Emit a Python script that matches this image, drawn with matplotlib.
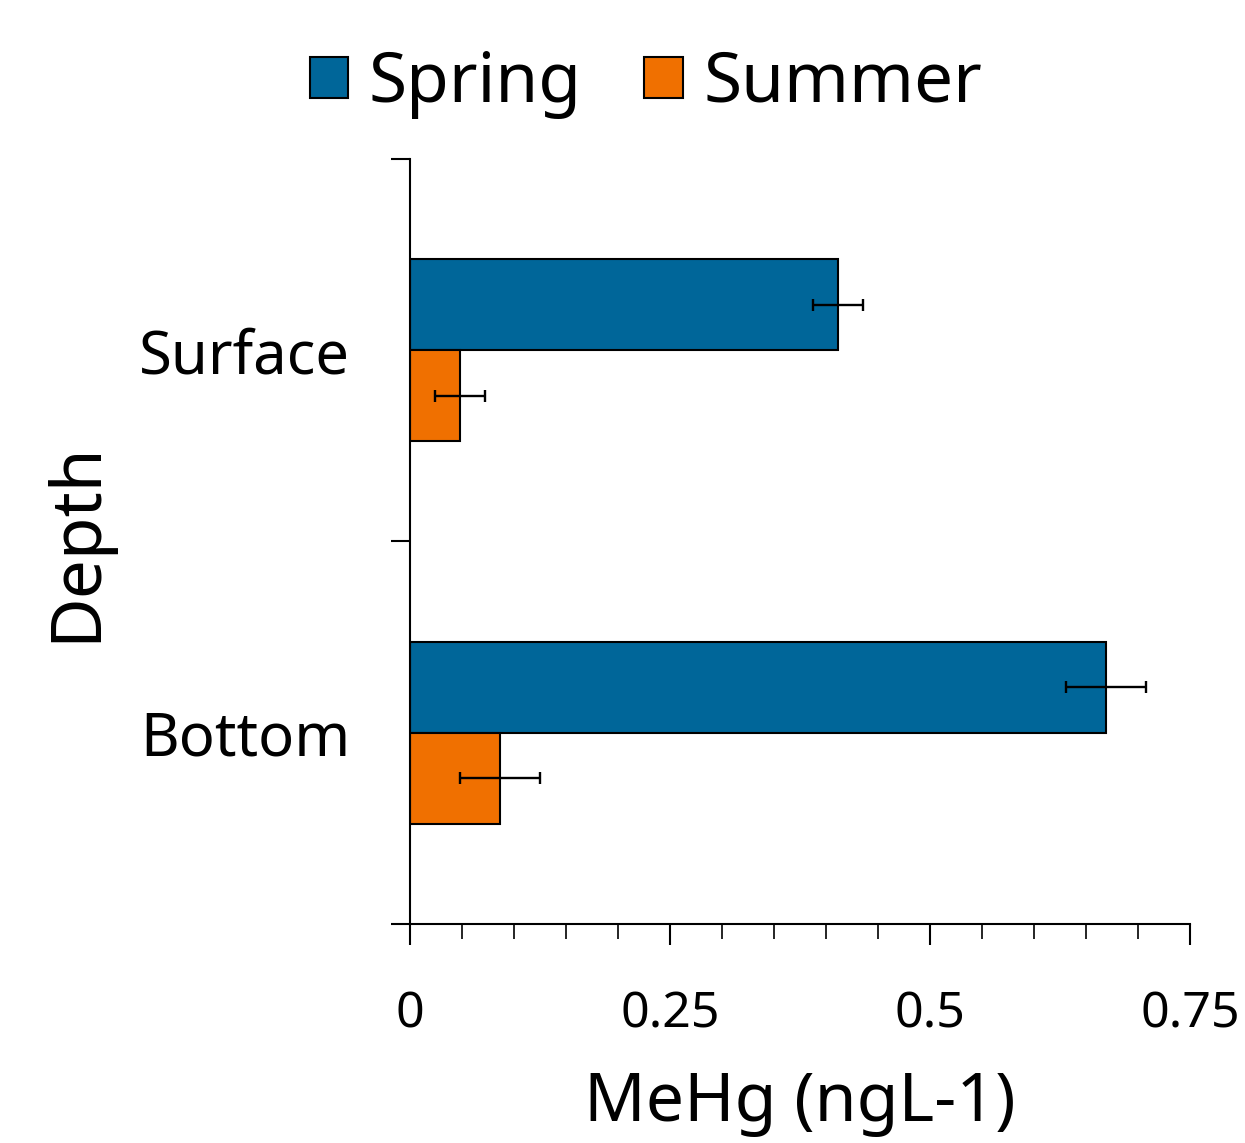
import numpy as np
import matplotlib
matplotlib.use('Agg')
import matplotlib.pyplot as plt
from matplotlib.ticker import MultipleLocator

plt.rcParams['font.family'] = ['Noto Sans', 'DejaVu Sans']

depths = ['Bottom', 'Surface']
seasons = ['Spring', 'Summer']
spring_mehg = [0.669, 0.4115]
summer_mehg = [0.0865, 0.048]
spring_err = [0.0385, 0.024]
summer_err = [0.0385, 0.024]

blue = '#006699'
orange = '#F07000'

fig = plt.figure(figsize=(12.45, 11.43), dpi=100)
ax = fig.add_axes([0.3293, 0.1916, 0.6265, 0.6693])

pos = np.arange(len(depths)) + 0.5
h = 0.238
err_kw = dict(ecolor='black', elinewidth=1.7, capsize=4.5, capthick=1.7)
ax.barh(pos + h / 2, spring_mehg, height=h, xerr=spring_err, color=blue,
        edgecolor='black', linewidth=1.5, error_kw=err_kw, label=seasons[0])
ax.barh(pos - h / 2, summer_mehg, height=h, xerr=summer_err, color=orange,
        edgecolor='black', linewidth=1.5, error_kw=err_kw, label=seasons[1])

ax.set_xlim(0, 0.75)
ax.set_ylim(0, 2)

for s in ['top', 'right']:
    ax.spines[s].set_visible(False)
for s in ['left', 'bottom']:
    ax.spines[s].set_linewidth(1.5)

# x ticks: majors every 0.25, minors every 0.05
ax.set_xticks([0, 0.25, 0.5, 0.75])
ax.set_xticklabels(['0', '0.25', '0.5', '0.75'])
ax.xaxis.set_minor_locator(MultipleLocator(0.05))
ax.tick_params(axis='x', which='major', direction='out', length=15,
               width=1.5, pad=32, labelsize=36)
ax.tick_params(axis='x', which='minor', direction='out', length=11, width=1.2)

# y ticks at group boundaries, labels centred on groups
ax.set_yticks([0, 1, 2])
ax.set_yticklabels([])
ax.set_yticks(pos, minor=True)
ax.set_yticklabels(depths, minor=True)
ax.tick_params(axis='y', which='major', direction='out', length=14, width=1.5)
ax.tick_params(axis='y', which='minor', length=0, pad=43, labelsize=43)

ax.set_xlabel('MeHg (ngL-1)', fontsize=49)
ax.xaxis.set_label_coords(0.5, -0.19)
ax.set_ylabel('Depth', fontsize=50)
ax.yaxis.set_label_coords(-0.382, 0.5)

fig.legend(loc='center', bbox_to_anchor=(646 / 1245, 1 - 84 / 1143),
           ncol=2, frameon=False, fontsize=50, handlelength=0.55,
           handleheight=0.55, handletextpad=0.3, columnspacing=0.9)

fig.savefig('out.png', dpi=100)
